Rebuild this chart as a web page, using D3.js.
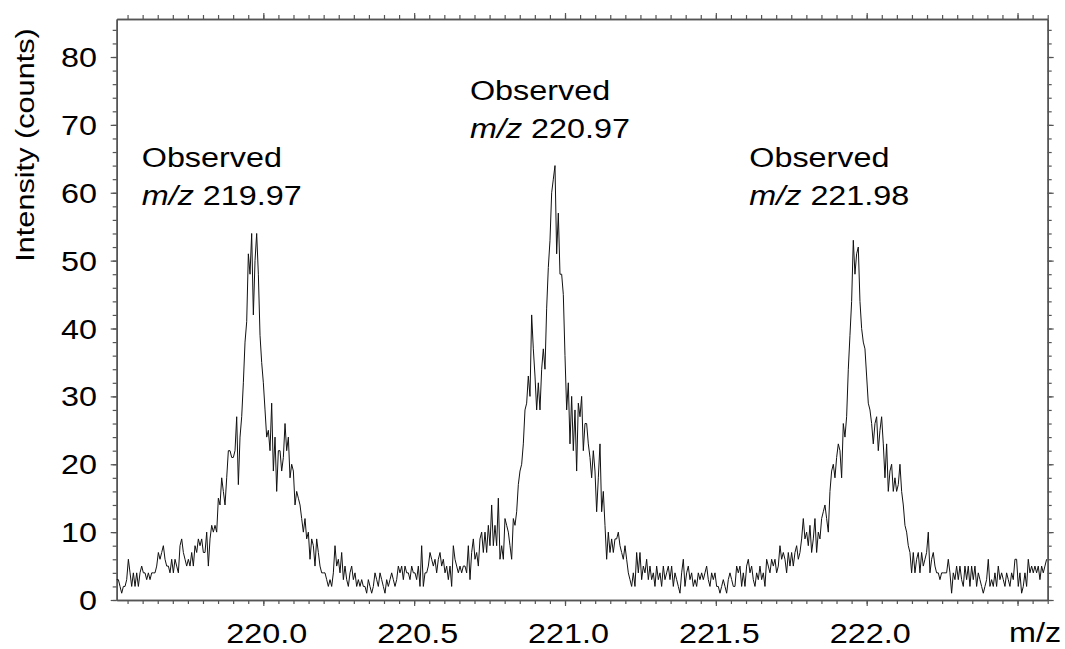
<!DOCTYPE html>
<html lang="en">
    <head>
        <meta charset="utf-8">
        <title>Mass spectrum</title>
        <script type="text/javascript" src="https://cdn.jsdelivr.net/npm/d3@7"></script>
        <style type="text/css">
            body { margin: 0; background: #fff; }
            text { font-family: "Liberation Sans", Arial, sans-serif; fill: #000; }
        </style>
    </head>

    <body>
        <script type="text/javascript">
            // Spectrum samples (counts), evenly spaced in m/z
            var mzStart = 219.514;
            var mzStep = 0.005524;
            var counts = [
                3,3,2,1,2,2,3,6,4,2, 4,2,4,2,4,5,4,4,3,4, 3,4,4,4,5,7,6,7,8,6,
                5,5,4,6,4,6,5,4,8,9, 7,6,5,6,5,7,5,8,7,9, 8,9,7,7,10,5,9,11,10,11,
                10,15,14,18,16,14,18,22,22,21, 21,22,27,17,24,27,32,38,41,51,
                48,54,42,50,54,48,39,35,32,28, 24,25,22,29,19,24,16,22,22,19,
                21,26,22,24,18,20,19,14,16,15, 14,12,10,12,9,10,6,9,8,5,
                9,7,5,4,4,4,3,2,3,2, 4,8,5,6,4,7,3,5,3,2, 4,
                5,3,4,2,3,2,3,2,2,1, 3,2,1,2,4,3,2,4,3,2, 1,3,2,3,4,3,2,3,5,4,
                5,3,5,4,4,3,5,4,4,3, 5,2,8,2,4,4,5,7,6,5, 6,4,6,7,5,6,4,5,3,5,
                2,8,6,5,4,5,4,5,5,4, 8,3,7,9,6,7,5,9,10,7, 10,7,11,8,14,8,11,8,15,6,
                8,6,12,11,10,8,6,12,11,13, 17,19,20,23,28,29,33,30,42,37,
                33,28,32,28,34,37,34,43,49,53, 60,62,64,51,57,48,48,45,36,28,
                32,23,30,22,28,19,29,27,30,22, 26,
                26,23,21,18,22,19,13,18,23,13, 16,11,6,10,7,9,7,9,9,10,
                8,7,6,8,6,4,3,2,4,2, 7,4,7,3,5,4,6,3,5,3, 4,2,5,3,4,2,5,3,4,5,
                3,5,2,4,3,2,1,4,6,2, 4,5,3,4,2,3,2,4,3,4, 3,4,5,3,2,4,3,4,2,2,
                1,2,3,2,1,3,4,3,2,2, 5,4,5,2,4,2,5,6,4,5, 3,2,4,3,5,3,4,2,6,5,
                4,6,5,6,4,5,8,6,7,6, 4,7,5,7,5,7,8,6,7,9, 12,9,10,8,11,7,9,12,7,10, 9,
                12,13,14,12,10,16,19,20,18,21, 23,22,18,26,24,27,34,39,44,53,
                48,51,52,44,40,38,37,33,29,28, 26,23,26,27,22,25,27,23,18,23,
                16,19,20,16,18,16,17,20,16,14, 11,10,8,7,4,7,4,6,7,4,
                7,5,6,7,10,4,6,7,5,4, 4,3,4,4,4,4,6,4,1,4, 3,5,3,5,3,2,5,3,5,2,
                5,3,5,2,4,3,2,1,2,3, 6,2,3,2,4,2,5,3,4,3, 2,4,3,2,4,3,6,6,2,4,
                1,2,4,2,6,4,5,4,5,4, 5,3,5,4,5,6
            ];

            // Tick values and labels
            var xMajor = [220.0, 220.5, 221.0, 221.5, 222.0, 222.5];
            var xLabels = ["220.0", "220.5", "221.0", "221.5", "222.0"];
            var yMajor = [0, 10, 20, 30, 40, 50, 60, 70, 80];

            // Peak annotations
            var peakMz = [219.97, 220.97, 221.98];
            var peakLabelMz = [219.597, 220.685, 221.611];
            var peakLabelCount = [63.85, 73.65, 63.85];

            var w = 1065;
            var h = 649;
            // plot box edges (avoid the name "top": it is a read-only window global)
            var padL = 116.7, padR = 1047.7, padT = 19, padB = 600;
            var stretch = 1.155;   // the original type is set a little wide

            var svg = d3.select("body")
                        .append("svg")
                        .attr("width", w)
                        .attr("height", h);

            var x = d3.scaleLinear().domain([219.514, 222.6]).range([padL, padR]);
            var y = d3.scaleLinear().domain([0, 85.6]).range([padB, padT]);

            var xMinor = d3.range(219.55, 222.62, 0.05);
            var yMinor = d3.range(0, 85, 2);

            // Draw the four sides with minor + major ticks, all pointing outward
            function side(axisFn, scale, vals, size, transform) {
                var g = svg.append("g")
                    .attr("transform", transform)
                    .call(axisFn(scale).tickValues(vals).tickSize(size).tickSizeOuter(0).tickFormat(""));
                g.select(".domain").attr("stroke", "#555").attr("stroke-width", 1.5);
                g.selectAll(".tick line").attr("stroke", "#555").attr("stroke-width", 1.2);
                return g;
            }
            side(d3.axisBottom, x, xMinor, 4, "translate(0," + padB + ")");
            side(d3.axisBottom, x, xMajor, 6, "translate(0," + padB + ")");
            side(d3.axisTop, x, xMinor, 4, "translate(0," + padT + ")");
            side(d3.axisTop, x, xMajor, 6, "translate(0," + padT + ")");
            side(d3.axisLeft, y, yMinor, 4, "translate(" + padL + ",0)");
            side(d3.axisLeft, y, yMajor, 6, "translate(" + padL + ",0)");
            side(d3.axisRight, y, yMinor, 4, "translate(" + padR + ",0)");
            side(d3.axisRight, y, yMajor, 6, "translate(" + padR + ",0)");

            // The spectrum trace
            var line = d3.line()
                .x(function(d, i) { return x(mzStart + i * mzStep); })
                .y(function(d) { return y(d); });

            svg.append("path")
                .datum(counts)
                .attr("d", line)
                .attr("fill", "none")
                .attr("stroke", "#111")
                .attr("stroke-width", 1);

            // Tick labels (the original sets them a few px right of the tick)
            svg.selectAll("text.xlab")
                .data(xLabels)
                .enter()
                .append("text")
                .attr("class", "xlab")
                .attr("text-anchor", "middle")
                .attr("font-size", "28px")
                .attr("transform", function(d) {
                    return "translate(" + (x(+d) + 3.5) + ",643) scale(" + stretch + ",1)";
                })
                .text(function(d) { return d; });

            svg.append("text")
                .attr("font-size", "28px")
                .attr("transform", "translate(1009,642) scale(" + stretch + ",1)")
                .text("m/z");

            svg.selectAll("text.ylab")
                .data(yMajor)
                .enter()
                .append("text")
                .attr("class", "ylab")
                .attr("text-anchor", "end")
                .attr("font-size", "28px")
                .attr("transform", function(d) {
                    return "translate(97," + (y(d) + 10) + ") scale(" + stretch + ",1)";
                })
                .text(function(d) { return d; });

            svg.append("text")
                .attr("text-anchor", "middle")
                .attr("font-size", "26px")
                .attr("transform", "translate(34,145) rotate(-90) scale(1.18,1)")
                .text("Intensity (counts)");

            // Annotations above each peak
            peakMz.forEach(function(mz, i) {
                var g = svg.append("g")
                    .attr("transform", "translate(" + x(peakLabelMz[i]) + "," + y(peakLabelCount[i]) + ") scale(" + stretch + ",1)");
                g.append("text")
                    .attr("font-size", "28px")
                    .text("Observed");
                var t = g.append("text")
                    .attr("font-size", "28px")
                    .attr("y", 38);
                t.append("tspan").attr("font-style", "italic").text("m/z");
                t.append("tspan").text(" " + mz.toFixed(2));
            });
        </script>
    </body>
</html>
